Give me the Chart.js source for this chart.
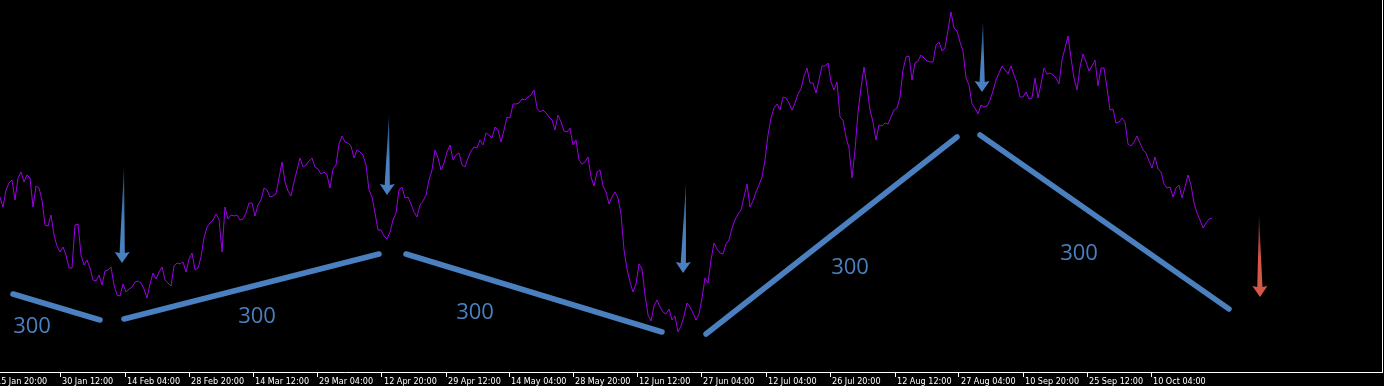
<!DOCTYPE html>
<html>
<head>
<meta charset="utf-8">
<script src="https://cdn.jsdelivr.net/npm/chart.js@4.4.1/dist/chart.umd.min.js"></script>
<style>
    html, body { margin: 0; padding: 0; background: #000; }
    #wrap { width: 1384px; height: 386px; position: relative; }
</style>
</head>
<body>
<div id="wrap"><canvas id="priceChart"></canvas></div>
<script>
// one close reading every 3 bars; levels are screen-style (bigger = lower)
const barStep = 3;
const closeLevels = [
    197,207,190,183,180,200,178,172,182,175,
    178,207,186,188,200,225,226,215,235,246,
    252,247,255,268,268,225,224,255,265,260,
    268,280,281,275,285,271,270,267,285,295,
    296,284,292,289,287,282,281,283,289,298,
    284,273,279,272,267,280,283,286,266,263,
    264,262,272,259,253,270,268,257,238,227,
    223,
    220,214,219,252,207,219,215,216,215,220,
    219,213,203,203,216,205,200,188,190,197,
    196,194,178,162,182,191,196,182,170,158,
    167,165,161,158,167,169,174,172,175,188,
    169,165,144,136,142,143,146,158,150,152,
    155,165,190,197,213,230,230,236,239,232,
    220,213,190,187,198,197,
    204,212,217,205,201,195,180,170,150,158,
    170,163,152,145,160,155,153,165,167,158,
    151,147,148,140,145,133,135,138,127,130,
    142,130,117,118,104,104,103,99,100,97,
    95,90,108,112,110,113,117,120,130,115,
    122,131,132,128,145,140,160,164,162,157,
    177,186,172,170,186,192,204,
    197,192,198,214,250,269,282,292,284,264,
    269,295,315,321,306,300,307,312,314,309,
    320,316,332,326,316,303,307,313,320,314,
    298,278,283,260,243,249,253,254,244,240,
    228,220,214,210,197,184,207,201,192,185,
    177,
    160,135,118,108,104,110,97,98,103,110,
    103,94,89,76,68,83,83,93,80,66,
    66,63,82,90,82,117,120,137,148,178,
    150,112,88,67,87,110,122,140,125,126,
    123,124,117,110,108,97,70,57,56,80,
    63,61,55,58,61,62,62,45,42,51,
    48,30,12,28,31,42,51,78,85,104,
    108,114,105,107,106,100,91,80,73,66,
    70,74,66,75,83,97,97,92,99,98,
    78,98,84,68,74,73,75,78,84,60,
    48,36,58,78,90,67,54,62,71,66,
    60,86,68,68,88,110,109,123,122,118,
    122,144,146,142,136,143,150,153,161,168,
    157,169,172,184,188,187,197,188,185,198,
    187,175,185,203,213,220,228,223,219,218
];

const tickBars = [-6, 60, 125, 189, 253, 317, 382, 446, 509, 573, 637, 701, 766, 830, 895, 959, 1023, 1087, 1151];
const tickLabels = [
    '15 Jan 20:00', '30 Jan 12:00', '14 Feb 04:00', '28 Feb 20:00', '14 Mar 12:00',
    '29 Mar 04:00', '12 Apr 20:00', '29 Apr 12:00', '14 May 04:00', '28 May 20:00',
    '12 Jun 12:00', '27 Jun 04:00', '12 Jul 04:00', '26 Jul 20:00', '12 Aug 12:00',
    '27 Aug 04:00', '10 Sep 20:00', '25 Sep 12:00', '10 Oct 04:00'
];

// start bar, start level, end bar, end level
const trendLines = [
    [13, 294, 100, 320],
    [124, 319, 379, 254],
    [406, 254, 662, 332],
    [706, 334, 957, 137],
    [980, 135, 1229, 309]
];
const trendLabelBars = [32, 257, 475, 850, 1079];
const trendLabelLevels = [327, 317, 313, 268, 254];
const trendLabelText = ['300', '300', '300', '300', '300'];

const arrowTopBars = [124, 389, 686, 983, 1259];
const arrowTopLevels = [167, 115, 183, 22, 215];
const arrowTipBars = [122, 387, 683, 982, 1260];
const arrowTipLevels = [263, 195, 273, 92, 297];

const BLUE = '#4a80bf';
const arrowShades = [
    ['#23466d', BLUE], ['#23466d', BLUE], ['#23466d', BLUE], ['#23466d', BLUE],
    ['#5e221c', '#d4574a']
];

const markupPlugin = {
    id: 'markup',
    afterDatasetsDraw(chart) {
        const ctx = chart.ctx;
        const xs = chart.scales.x;
        const ys = chart.scales.y;
        ctx.save();

        arrowTopBars.forEach(function (bar, i) {
            const x0 = xs.getPixelForValue(bar);
            const y0 = ys.getPixelForValue(arrowTopLevels[i]);
            const x1 = xs.getPixelForValue(arrowTipBars[i]);
            const y1 = ys.getPixelForValue(arrowTipLevels[i]);
            const headH = 10, headW = 7.5, shaftW = 2.6;
            const baseY = y1 - headH;
            const baseX = x1 + (x0 - x1) * headH / (y1 - y0);
            const grad = ctx.createLinearGradient(0, y0, 0, y1);
            grad.addColorStop(0, arrowShades[i][0]);
            grad.addColorStop(0.55, arrowShades[i][1]);
            grad.addColorStop(1, arrowShades[i][1]);
            ctx.fillStyle = grad;
            ctx.beginPath();
            ctx.moveTo(x0, y0);
            ctx.lineTo(baseX + shaftW, baseY);
            ctx.lineTo(baseX + headW, baseY - 1);
            ctx.lineTo(x1, y1);
            ctx.lineTo(baseX - headW, baseY - 1);
            ctx.lineTo(baseX - shaftW, baseY);
            ctx.closePath();
            ctx.fill();
        });

        ctx.font = '22px "Open Sans", "DejaVu Sans", sans-serif';
        ctx.fillStyle = BLUE;
        ctx.textAlign = 'center';
        ctx.textBaseline = 'middle';
        trendLabelBars.forEach(function (bar, i) {
            ctx.fillText(trendLabelText[i], xs.getPixelForValue(bar), ys.getPixelForValue(trendLabelLevels[i]));
        });
        ctx.restore();
    }
};

const priceSet = {
    data: closeLevels.map(function (v, i) { return { x: i * barStep, y: v }; }),
    borderColor: '#9b00e6',
    borderWidth: 1,
    pointRadius: 0,
    tension: 0,
    fill: false
};

const trendSets = trendLines.map(function (t) {
    return {
        data: [{ x: t[0], y: t[1] }, { x: t[2], y: t[3] }],
        borderColor: BLUE,
        borderWidth: 5.5,
        borderCapStyle: 'round',
        pointRadius: 0,
        fill: false
    };
});

new Chart(document.getElementById('priceChart'), {
    type: 'line',
    data: { datasets: [priceSet].concat(trendSets) },
    options: {
        responsive: true,
        maintainAspectRatio: false,
        animation: false,
        devicePixelRatio: 1,
        layout: { padding: 0, autoPadding: false },
        plugins: {
            legend: { display: false },
            tooltip: { enabled: false }
        },
        scales: {
            x: {
                type: 'linear',
                position: 'bottom',
                min: 0,
                max: 1382,
                afterBuildTicks: function (axis) {
                    axis.ticks = tickBars.map(function (v) { return { value: v }; });
                },
                afterFit: function (axis) {
                    // first label hangs off the left edge, as in the terminal
                    axis.height = 14;
                    axis.paddingLeft = 0;
                    axis.paddingRight = 0;
                },
                grid: { drawOnChartArea: false, drawTicks: true, tickLength: 5, color: '#ffffff', lineWidth: 1 },
                border: { display: true, color: '#ffffff', width: 1 },
                ticks: {
                    autoSkip: false,
                    maxRotation: 0,
                    minRotation: 0,
                    align: 'start',
                    labelOffset: 2,
                    padding: -1,
                    color: '#ffffff',
                    font: { family: "'DejaVu Sans Condensed', 'Liberation Sans', sans-serif", size: 9 },
                    callback: function (value, index) { return tickLabels[index]; }
                }
            },
            y: {
                type: 'linear',
                position: 'right',
                reverse: true,
                min: 0,
                max: 372,
                afterFit: function (axis) { axis.width = 2; },
                grid: { display: false },
                border: { display: true, color: '#ffffff', width: 1 },
                ticks: { display: false }
            }
        }
    },
    plugins: [markupPlugin]
});
</script>
</body>
</html>
